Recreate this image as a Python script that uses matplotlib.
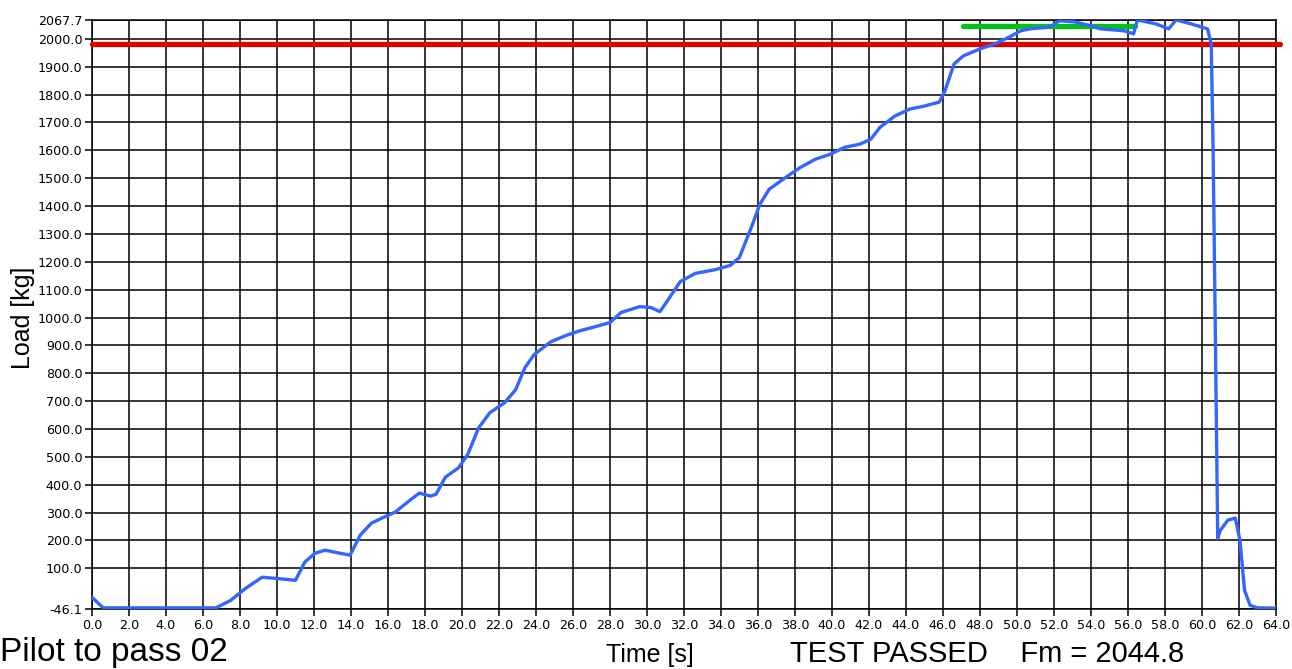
import numpy as np
import matplotlib
matplotlib.use("Agg")
import matplotlib.pyplot as plt

# load curve (time [s], load [kg])
time_s = [0.0, 0.6, 6.7, 7.5, 8.3, 9.2, 9.9, 11.0, 11.5, 12.05, 12.6, 13.4, 13.95,
          14.5, 15.1, 15.8, 16.4, 17.2, 17.7, 18.3, 18.6, 19.1, 19.8, 20.3, 20.9,
          21.5, 22.3, 22.9, 23.4, 23.9, 24.8, 25.6, 26.4, 27.2, 28.0, 28.6, 29.6,
          30.2, 30.7, 31.0, 31.8, 32.6, 33.7, 34.5, 35.0, 35.7, 36.1, 36.6, 37.5,
          38.3, 39.1, 39.9, 40.7, 41.5, 42.1, 42.6, 43.4, 44.2, 45.0, 45.8, 46.1,
          46.6, 47.1, 48.0, 48.8, 49.6, 50.2, 50.7, 51.8, 52.3, 53.1, 54.0, 54.5,
          55.8, 56.3, 56.5, 57.5, 58.2, 58.6, 59.4, 60.3, 60.5, 60.6, 60.7, 60.85,
          61.0, 61.4, 61.8, 62.05, 62.3, 62.6, 63.0, 64.0]
load_kg = [-4, -42, -42, -15, 28, 68, 64, 57, 122, 154, 165, 154, 147,
           219, 262, 284, 302, 345, 370, 359, 366, 427, 460, 507, 604,
           658, 694, 741, 820, 867, 913, 935, 953, 967, 982, 1018, 1039,
           1036, 1021, 1050, 1129, 1158, 1172, 1187, 1216, 1334, 1406, 1460, 1503,
           1539, 1568, 1586, 1611, 1622, 1640, 1683, 1723, 1748, 1759, 1773, 1813,
           1910, 1939, 1964, 1982, 2007, 2029, 2036, 2043, 2065, 2061, 2047, 2036,
           2029, 2018, 2068, 2054, 2036, 2068, 2054, 2036, 1982, 1604, 1064, 208,
           237, 273, 280, 201, 21, -33, -42, -43]

limit_load = 1980.0
fm_value = 2044.8
fm_span = [47.1, 56.4]

y_min, y_max = -46.1, 2067.7
y_ticks = [y_min] + list(range(100, 2001, 100)) + [y_max]
x_ticks = np.arange(0, 64.1, 2.0)

sans = ["Liberation Sans", "DejaVu Sans"]

fig = plt.figure(figsize=(12.92, 6.69), dpi=100)
ax = fig.add_axes([92 / 1292, 60 / 669, 1184 / 1292, 589 / 669])

ax.plot([0, 64.2], [limit_load, limit_load], color="#e00000", lw=3.8,
        solid_capstyle="round", clip_on=False, zorder=3)
ax.plot(fm_span, [fm_value, fm_value], color="#00c21a", lw=3.8,
        solid_capstyle="round", zorder=4)
ax.plot(time_s, load_kg, color="#3366ff", lw=2.4, zorder=5)

ax.set_xlim(0, 64)
ax.set_ylim(y_min, y_max)
ax.set_xticks(x_ticks)
ax.set_xticklabels(["%.1f" % v for v in x_ticks])
ax.set_yticks(y_ticks)
ax.set_yticklabels(["%.1f" % v for v in y_ticks])
ax.grid(True, color="black", lw=1.1)
ax.set_axisbelow(True)
for s in ax.spines.values():
    s.set_color("black")
    s.set_linewidth(1.1)
ax.tick_params(direction="out", length=5, width=1.1, color="black",
               labelsize=9.2, pad=2)
for lbl in ax.get_xticklabels() + ax.get_yticklabels():
    lbl.set_family(["Liberation Sans Narrow", "DejaVu Sans"])

fig.text(23 / 1292, 1 - 318 / 669, "Load [kg]", rotation=90, ha="center",
         va="center", fontsize=18, family=sans)
fig.text(650 / 1292, 1 - 655 / 669, "Time [s]", ha="center", va="center",
         fontsize=18, family=sans)
fig.text(0, 1 / 669, "Pilot to pass 02", ha="left", va="bottom",
         fontsize=24, family=sans)
fig.text(790 / 1292, 1 / 669, "TEST PASSED    Fm = 2044.8", ha="left",
         va="bottom", fontsize=21, family=sans)

fig.savefig("out.png", dpi=100)
